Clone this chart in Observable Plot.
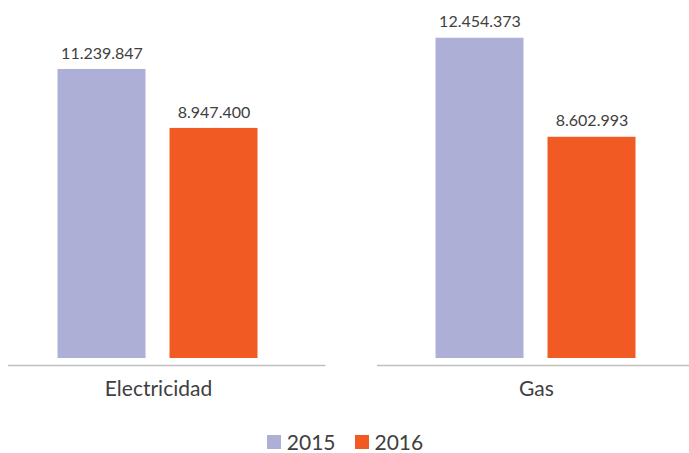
<!DOCTYPE html>
<html>
<head>
<meta charset="utf-8">
<script src="https://cdn.jsdelivr.net/npm/d3@7"></script>
<script src="https://cdn.jsdelivr.net/npm/@observablehq/plot@0.6"></script>
<style>
  html, body { margin: 0; padding: 0; background: #fff; }
  #chart { width: 689px; }
  .lg-swatches { justify-content: center !important; min-height: 24px !important; margin-top: 4px; padding-left: 20px; }
  .lg-swatch { margin-right: 19px !important; }
  .lg-swatch svg { margin-right: 6px !important; }
</style>
</head>
<body>
<div id="chart"></div>
<script>
const categories = ["Electricidad", "Gas"];
const years = ["2015", "2016"];
const values2015 = [11239847, 12454373];
const values2016 = [8947400, 8602993];
const colors = ["#ADAFD6", "#F15A22"];

const data = [];
categories.forEach((c, i) => {
  data.push({cat: c, year: years[0], value: values2015[i]});
  data.push({cat: c, year: years[1], value: values2016[i]});
});

const fmt = d3.formatLocale({decimal: ",", thousands: ".", grouping: [3], currency: ["", "€"]}).format(",");

const plot = Plot.plot({
  width: 689,
  height: 425,
  marginLeft: 7.5,
  marginRight: 3,
  marginTop: 0,
  marginBottom: 67,
  fx: {domain: categories, paddingInner: 0.2074, paddingOuter: 0, label: null},
  x: {domain: years, paddingInner: 0.214, paddingOuter: 0.446, axis: null},
  y: {domain: [0, 14000000], range: [358, -2], axis: null},
  color: {domain: years, range: colors},
  style: {fontFamily: "Lato, sans-serif"},
  marks: [
    Plot.barY(data, {fx: "cat", x: "year", y: "value", fill: "year"}),
    Plot.text(data, {fx: "cat", x: "year", y: "value", text: d => fmt(d.value),
      dy: -16, fontSize: 16, fill: "#404040", fontFamily: "Lato, sans-serif"}),
    Plot.ruleY([{cat: categories[0], v: 0}], {fx: "cat", y: "v", dy: 7, stroke: "#BFBFBF", strokeWidth: 1.5, insetLeft: 0, insetRight: -17.5}),
    Plot.ruleY([{cat: categories[1], v: 0}], {fx: "cat", y: "v", dy: 7, stroke: "#BFBFBF", strokeWidth: 1.5, insetLeft: -9, insetRight: -3}),
    Plot.axisFx({anchor: "bottom", tickSize: 0, tickPadding: 23, label: null, fontSize: 21, fill: "#404040"})
  ]
});

const legend = Plot.legend({
  color: {domain: years, range: colors},
  legend: "swatches",
  swatchSize: 14,
  className: "lg",
  style: {fontSize: "21px", fontFamily: "Lato, sans-serif", color: "#404040"}
});

document.getElementById("chart").append(plot, legend);
</script>
</body>
</html>
